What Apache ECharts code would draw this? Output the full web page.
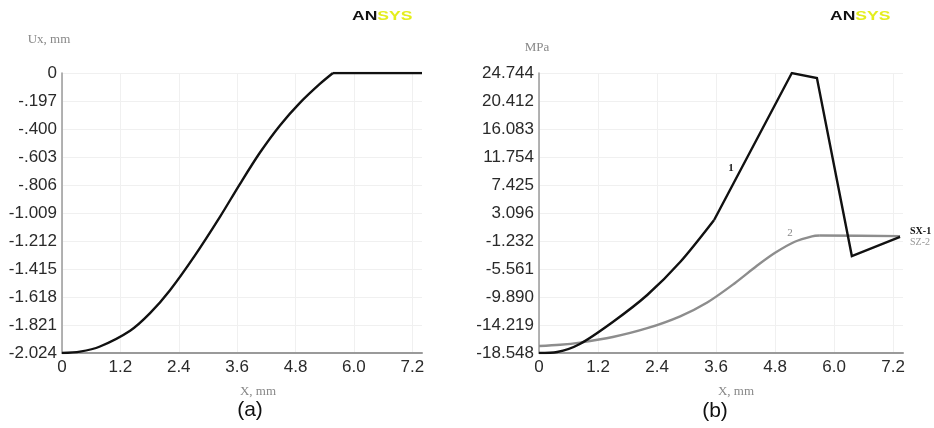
<!DOCTYPE html>
<html><head><meta charset="utf-8">
<script src="https://cdn.jsdelivr.net/npm/echarts@6/dist/echarts.min.js"></script>
<style>html,body{margin:0;padding:0;background:#fff}#c{width:934px;height:428px}</style>
</head><body><div id="c"></div>
<script>
// ---- data ----
const xTickValues = [0, 1.2, 2.4, 3.6, 4.8, 6.0, 7.2];
const xTickLabels = ['0', '1.2', '2.4', '3.6', '4.8', '6.0', '7.2'];
const uxTickLabels = ['-2.024', '-1.821', '-1.618', '-1.415', '-1.212', '-1.009', '-.806', '-.603', '-.400', '-.197', '0'];
const mpaTickLabels = ['-18.548', '-14.219', '-9.890', '-5.561', '-1.232', '3.096', '7.425', '11.754', '16.083', '20.412', '24.744'];
const uxMin = -2.024, uxMax = 0;
const mpaMin = -18.548, mpaMax = 24.744;
const xMax = 7.4;

// Ux displacement (a): rising part and flat part
const uxRiseX = [0, 0.37, 0.78, 1.4, 1.81, 2.22, 2.73, 3.25, 3.66, 4.07, 4.48, 4.89, 5.3, 5.57];
const uxRiseY = [-2.024, -2.014, -1.977, -1.863, -1.736, -1.57, -1.32, -1.038, -0.801, -0.575, -0.379, -0.216, -0.079, 0];
const uxFlatX = [5.57, 7.4];
const uxFlatY = [0, 0];

// SX (curve 1) in (b): curved lower part, then straight segments
const sx1LowX = [0, 0.37, 0.83, 1.5, 2.2, 2.87, 3.56];
const sx1LowY = [-18.548, -18.39, -17.15, -13.75, -9.58, -4.48, 2.02];
const sx1UpX = [3.56, 5.14, 5.65, 6.36, 7.34];
const sx1UpY = [2.02, 24.744, 23.97, -3.55, -0.6];

// SZ (curve 2) in (b)
const sz2RiseX = [0, 0.43, 0.83, 1.5, 2.2, 2.87, 3.42, 3.98, 4.43, 4.8, 5.2, 5.55, 5.71];
const sz2RiseY = [-17.47, -17.28, -16.94, -16.07, -14.71, -12.87, -10.74, -7.76, -5.07, -3.06, -1.35, -0.51, -0.38];
const sz2TailX = [5.71, 6.5, 7.34];
const sz2TailY = [-0.38, -0.42, -0.48];

// ---- helpers ----
const zip = (xs, ys) => xs.map((x, i) => [x, ys[i]]);
const evenTicks = (min, max, n) => Array.from({length: n}, (_, i) => i === n - 1 ? max : min + (max - min) * i / (n - 1));
const uxTicks = evenTicks(uxMin, uxMax, uxTickLabels.length);
const mpaTicks = evenTicks(mpaMin, mpaMax, mpaTickLabels.length);
const nearestIdx = (arr, v) => { let b = 0; arr.forEach((a, i) => { if (Math.abs(a - v) < Math.abs(arr[b] - v)) b = i; }); return b; };

const sans = '"Liberation Sans", Arial, sans-serif';
const serif = '"Liberation Serif", "DejaVu Serif", serif';
const gridLine = {show: true, lineStyle: {color: '#f0f0f0', width: 1}};

function xAxisCfg(gi) {
  return {
    type: 'value', gridIndex: gi, min: 0, max: xMax,
    axisLine: {show: true, onZero: false, lineStyle: {color: '#9a9a9a', width: 2}},
    axisTick: {show: false, customValues: xTickValues},
    axisLabel: {customValues: xTickValues, margin: 6, color: '#2a2a2a', fontSize: 17, fontFamily: sans,
      formatter: v => xTickLabels[nearestIdx(xTickValues, v)]},
    splitLine: gridLine
  };
}
function yAxisCfg(gi, min, max, ticks, labels) {
  return {
    type: 'value', gridIndex: gi, min: min, max: max,
    axisLine: {show: true, onZero: false, lineStyle: {color: '#9a9a9a', width: 1.5}},
    axisTick: {show: false, customValues: ticks},
    axisLabel: {customValues: ticks, margin: 5, color: '#2a2a2a', fontSize: 17, fontFamily: sans,
      formatter: v => labels[nearestIdx(ticks, v)]},
    splitLine: gridLine
  };
}
const blackLine = {color: '#111', width: 2.4, join: 'miter'};
const grayLine = {color: '#8d8d8d', width: 2.4};
const logo = (x) => ({type: 'text', x: x, y: 16, scaleX: 1.35, style: {
  text: '{a|AN}{b|SYS}', verticalAlign: 'middle',
  rich: {a: {fontFamily: sans, fontWeight: 'bold', fontSize: 13, fill: '#111', color: '#111'},
         b: {fontFamily: sans, fontWeight: 'bold', fontSize: 13, fill: '#e4ee1c', color: '#e4ee1c'}}}});
const txt = (x, y, text, font, fill) => ({type: 'text', x: x, y: y, style: {text: text, font: font, fill: fill, align: 'center', verticalAlign: 'middle'}});

const chart = echarts.init(document.getElementById('c'));
chart.setOption({
  animation: false,
  backgroundColor: '#fff',
  grid: [
    {left: 62, top: 73, width: 360, height: 280},
    {left: 539, top: 73, width: 364, height: 280}
  ],
  xAxis: [xAxisCfg(0), xAxisCfg(1)],
  yAxis: [yAxisCfg(0, uxMin, uxMax, uxTicks, uxTickLabels), yAxisCfg(1, mpaMin, mpaMax, mpaTicks, mpaTickLabels)],
  series: [
    {type: 'line', xAxisIndex: 0, yAxisIndex: 0, data: zip(uxRiseX, uxRiseY), smooth: 0.3, showSymbol: false, lineStyle: blackLine},
    {type: 'line', xAxisIndex: 0, yAxisIndex: 0, data: zip(uxFlatX, uxFlatY), showSymbol: false, lineStyle: blackLine},
    {type: 'line', xAxisIndex: 1, yAxisIndex: 1, data: zip(sz2RiseX, sz2RiseY), smooth: 0.3, showSymbol: false, lineStyle: grayLine},
    {type: 'line', xAxisIndex: 1, yAxisIndex: 1, data: zip(sz2TailX, sz2TailY), showSymbol: false, lineStyle: grayLine,
      endLabel: {show: true, formatter: 'SZ-2', color: '#999', fontSize: 10, fontFamily: serif, offset: [2, 6]}},
    {type: 'line', xAxisIndex: 1, yAxisIndex: 1, data: zip(sx1LowX, sx1LowY), smooth: 0.3, showSymbol: false, lineStyle: blackLine},
    {type: 'line', xAxisIndex: 1, yAxisIndex: 1, data: zip(sx1UpX, sx1UpY), showSymbol: false, lineStyle: blackLine,
      endLabel: {show: true, formatter: 'SX-1', color: '#111', fontSize: 10, fontWeight: 'bold', fontFamily: serif, offset: [2, -5]}}
  ],
  graphic: [
    txt(49, 40, 'Ux, mm', '13px ' + serif, '#888'),
    txt(537, 48, 'MPa', '13px ' + serif, '#888'),
    txt(258, 392, 'X, mm', '13px ' + serif, '#888'),
    txt(736, 392, 'X, mm', '13px ' + serif, '#888'),
    txt(250, 410, '(a)', '21px ' + sans, '#111'),
    txt(715, 411, '(b)', '21px ' + sans, '#111'),
    txt(731, 168, '1', 'bold 11px ' + serif, '#222'),
    txt(790, 233, '2', '11px ' + serif, '#888'),
    logo(352),
    logo(830)
  ]
});
</script></body></html>
